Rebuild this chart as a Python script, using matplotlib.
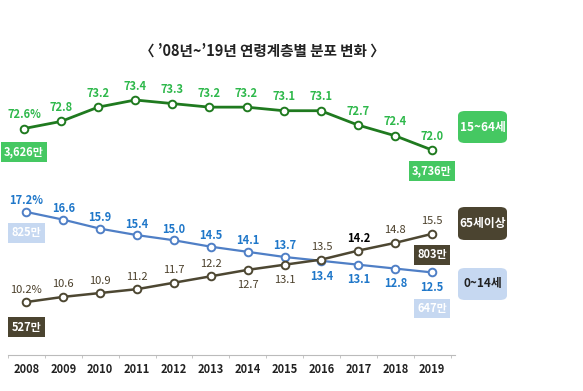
import matplotlib
matplotlib.use("Agg")
import matplotlib.pyplot as plt
from matplotlib.patches import FancyBboxPatch
import numpy as np

plt.rcParams['font.family'] = ['Noto Sans CJK KR', 'DejaVu Sans']

years = [2008, 2009, 2010, 2011, 2012, 2013, 2014, 2015, 2016, 2017, 2018, 2019]
working = [72.6, 72.8, 73.2, 73.4, 73.3, 73.2, 73.2, 73.1, 73.1, 72.7, 72.4, 72.0]
children = [17.2, 16.6, 15.9, 15.4, 15.0, 14.5, 14.1, 13.7, 13.4, 13.1, 12.8, 12.5]
elderly = [10.2, 10.6, 10.9, 11.2, 11.7, 12.2, 12.7, 13.1, 13.5, 14.2, 14.8, 15.5]
# 만명 (first / last year)
working_pop = ["3,626만", "3,736만"]
children_pop = ["825만", "647만"]
elderly_pop = ["527만", "803만"]

c_green_line = "#1f7a1f"
c_green_txt = "#2eb84b"
c_green_box = "#45c862"
c_blue_line = "#4f7fc6"
c_blue_txt = "#1f77c9"
c_blue_box = "#c6d8f1"
c_brown_line = "#4d4732"
c_brown_txt = "#4a3f2a"
c_brown_box = "#4b4430"

x = np.arange(len(years))
fig = plt.figure(figsize=(5.83, 3.91), dpi=100)
W, H = 583, 391

def px_axes(x0, y0, x1, y1):
    return fig.add_axes([x0 / W, 1 - y1 / H, (x1 - x0) / W, (y1 - y0) / H])

ax_top = px_axes(8, 90, 455, 165)
ax_bot = px_axes(8, 195, 455, 355)
for a in (ax_top, ax_bot):
    a.set_xlim(-0.43, 11.62)
    for s in a.spines.values():
        s.set_visible(False)
    a.set_yticks([])
    a.patch.set_alpha(0)
ax_top.set_ylim(71.58, 73.68)
ax_top.set_xticks([])
ax_bot.set_ylim(6.08, 18.52)

mk = dict(marker='o', markersize=5.5, markerfacecolor='white', markeredgewidth=1.4)
ax_top.plot(x, working, color=c_green_line, lw=2.0, **mk)
ax_bot.plot(x, children, color=c_blue_line, lw=1.6, **mk)
ax_bot.plot(x, elderly, color=c_brown_line, lw=1.8, **mk)

def lab(ax, xi, v, dy, color, first, weight='bold'):
    s = f"{v:.1f}%" if first else f"{v:.1f}"
    ax.annotate(s, (xi, v), xytext=(0, dy), textcoords='offset points',
                ha='center', va='center', fontsize=8, color=color, fontweight=weight)

for i, v in enumerate(working):
    lab(ax_top, i, v, 10, c_green_txt, i == 0)
for i, v in enumerate(children):
    lab(ax_bot, i, v, 8 if i < 8 else -11, c_blue_txt, i == 0)
for i, v in enumerate(elderly):
    if i == 9:
        lab(ax_bot, i, v, 9, "black", False)
    else:
        lab(ax_bot, i, v, 9 if i not in (6, 7) else -11, c_brown_txt, i == 0, 'normal')

def badge(ax, xi, v, dy, s, fc, tc):
    ax.annotate(s, (xi, v), xytext=(0, dy), textcoords='offset points',
                ha='center', va='center', fontsize=8, color=tc, fontweight='bold',
                bbox=dict(boxstyle='square,pad=0.3', fc=fc, ec='none'))

badge(ax_top, 0, working[0], -17, working_pop[0], c_green_box, "white")
badge(ax_top, 11, working[-1], -15, working_pop[1], c_green_box, "white")
badge(ax_bot, 0, children[0], -15, children_pop[0], c_blue_box, "white")
badge(ax_bot, 11, children[-1], -26, children_pop[1], c_blue_box, "white")
badge(ax_bot, 0, elderly[0], -18, elderly_pop[0], c_brown_box, "white")
badge(ax_bot, 11, elderly[-1], -15, elderly_pop[1], c_brown_box, "white")

# x axis
ax_bot.spines['bottom'].set_visible(True)
ax_bot.spines['bottom'].set_color("#bbbbbb")
ax_bot.set_xticks(x)
ax_bot.set_xticklabels([str(y) for y in years], fontsize=8, fontweight='bold', color="#222222")
ax_bot.tick_params(axis='x', length=0, pad=6)
ax_bot.set_xticks(np.arange(-0.5, 12, 1), minor=True)
ax_bot.tick_params(axis='x', which='minor', length=2, color="#bbbbbb")

# right-hand legend tags
def tag(y0, y1, s, fc, tc):
    x0, x1 = 458, 507
    p = FancyBboxPatch((x0 / W, 1 - y1 / H), (x1 - x0) / W, (y1 - y0) / H,
                       boxstyle='round,pad=0,rounding_size=0.012', transform=fig.transFigure,
                       fc=fc, ec='none')
    fig.patches.append(p)
    fig.text((x0 + x1) / 2 / W, 1 - (y0 + y1) / 2 / H, s, ha='center', va='center',
             fontsize=8.5, fontweight='bold', color=tc)

tag(111, 143, "15~64세", c_green_box, "white")
tag(207, 240, "65세이상", c_brown_box, "white")
tag(268, 300, "0~14세", c_blue_box, "#222222")

fig.text(262 / W, 1 - 51 / H, "〈 ’08년~’19년 연령계층별 분포 변화 〉", ha='center', va='center',
         fontsize=10.5, fontweight='bold', color="#222222")

fig.savefig("out.png", dpi=100)
